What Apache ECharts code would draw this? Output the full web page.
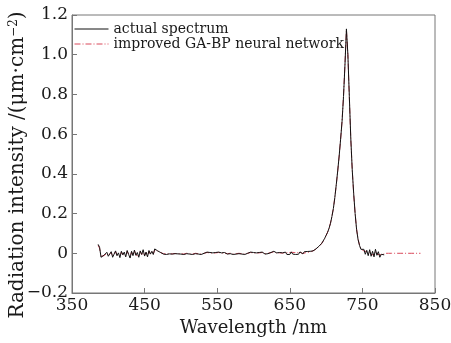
<!DOCTYPE html>
<html><head><meta charset="utf-8">
<script src="https://cdn.jsdelivr.net/npm/echarts@6/dist/echarts.min.js"></script>
<style>html,body{margin:0;padding:0;background:#fff}#c{width:451px;height:343px}</style>
</head><body><div id="c"></div>
<script>
// wavelength grid (nm): start and step shared by both series
const wlStart = 386;
const wlStep = 2;
const seriesNames = ['actual spectrum', 'improved GA-BP neural network'];
const xTicks = [350, 450, 550, 650, 750, 850];
const yTickLabels = ['\u22120.2', '0', '0.2', '0.4', '0.6', '0.8', '1.0', '1.2'];

// actual spectrum, 386..780 nm
const actual = [
  0.045, 0.03, -0.02, -0.028, -0.01, -0.018, 0.005, -0.015, -0.005, 0.008,
  -0.02, -0.004, 0.012, -0.012, 0.002, -0.022, 0.01, -0.008, 0.006, -0.018,
  0.014, -0.006, -0.024, 0.01, -0.012, 0.016, -0.01, 0.004, -0.02, 0.012,
  -0.006, 0.018, -0.014, 0.006, -0.018, 0.014, -0.004, 0.01, -0.006, 0.022,
  0.028, 0.012, 0.016, 0.004, 0.008, -0.004, 0.004, -0.006, 0.002, -0.003,
  0.003, -0.004, 0.002, -0.002, 0.003, -0.003, 0.001,
  -0.004, 0.002, -0.006, 0.004, -0.002, 0.006, -0.004, 0.000, -0.006, 0.004,
  -0.002, 0.006, -0.004, 0.002, -0.006, 0.004, 0.000, -0.004, 0.006, -0.002,
  0.004, -0.006, 0.002, -0.004, 0.004, -0.002, 0.006, -0.004, 0.002, -0.006,
  0.004, 0.000, -0.004, 0.006, -0.002, 0.004, -0.006, 0.002, -0.004, 0.006,
  -0.002, 0.004, -0.004, 0.002, -0.006, 0.004, 0.000, -0.004, 0.006, -0.002,
  0.004, -0.004, 0.002, -0.006, 0.004, -0.002, 0.006, 0.002, -0.004, 0.004,
  -0.002, 0.006, 0.004, 0.008, 0.01, 0.006, 0.002, -0.004, 0.004, -0.006,
  0.002, -0.004, 0.006, -0.006, 0.004, -0.006, 0.007, -0.004, 0.006, -0.006,
  0.004, -0.005, 0.007, 0.002, -0.003, 0.008, 0.003, 0.009, 0.005, 0.01,
  0.008, 0.012, 0.015, 0.022, 0.027, 0.035, 0.042, 0.05, 0.06, 0.075,
  0.09, 0.105, 0.125, 0.15, 0.185, 0.225, 0.28, 0.345, 0.415, 0.49,
  0.575, 0.665, 0.79, 0.95, 1.13, 1.0, 0.79, 0.58, 0.42, 0.3,
  0.2, 0.12, 0.07, 0.04, 0.02, 0.012, 0.02, -0.005, 0.015, -0.012,
  0.018, -0.015, 0.01, -0.018, 0.02, -0.01, 0.008, -0.02, -0.005, -0.015,
  -0.008
];

// improved GA-BP neural network prediction, 386..830 nm
const predicted = [
  0.04, 0.025, -0.015, -0.022, -0.012, -0.014, 0.0, -0.012, -0.004, 0.005,
  -0.015, -0.005, 0.008, -0.01, 0.0, -0.016, 0.006, -0.006, 0.004, -0.014,
  0.01, -0.006, -0.018, 0.006, -0.01, 0.012, -0.008, 0.002, -0.015, 0.008,
  -0.006, 0.012, -0.01, 0.004, -0.014, 0.01, -0.004, 0.008, -0.004, 0.018,
  0.024, 0.012, 0.012, 0.004, 0.006, -0.002, 0.003, -0.004, 0.001, -0.002,
  0.002, -0.003, 0.001, -0.001, 0.002, -0.002, 0.001,
  -0.002, 0.001, -0.004, 0.002, 0.000, 0.004, -0.002, 0.000, -0.004, 0.002,
  0.000, 0.004, -0.002, 0.001, -0.004, 0.002, 0.000, -0.002, 0.004, 0.000,
  0.002, -0.004, 0.001, -0.002, 0.002, 0.000, 0.004, -0.002, 0.001, -0.004,
  0.002, 0.000, -0.002, 0.004, 0.000, 0.002, -0.004, 0.001, -0.002, 0.004,
  0.000, 0.002, -0.002, 0.001, -0.004, 0.002, 0.000, -0.002, 0.004, 0.000,
  0.002, -0.002, 0.001, -0.004, 0.002, 0.000, 0.004, 0.001, -0.002, 0.002,
  0.000, 0.004, 0.003, 0.006, 0.008, 0.005, 0.001, -0.002, 0.002, -0.004,
  0.001, -0.002, 0.004, -0.004, 0.002, -0.004, 0.005, -0.002, 0.004, -0.004,
  0.003, -0.003, 0.005, 0.002, -0.001, 0.006, 0.003, 0.007, 0.005, 0.008,
  0.009, 0.012, 0.016, 0.021, 0.027, 0.034, 0.041, 0.05, 0.06, 0.074,
  0.09, 0.106, 0.126, 0.152, 0.186, 0.226, 0.28, 0.344, 0.414, 0.49,
  0.574, 0.668, 0.795, 0.955, 1.125, 1.0, 0.785, 0.575, 0.418, 0.298,
  0.198, 0.122, 0.072, 0.042, 0.022, 0.012, 0.012, 0.002, 0.008, -0.004,
  0.008, -0.006, 0.004, -0.008, 0.008, -0.004, 0.002, -0.008, -0.003, -0.006,
  -0.004,
  0, 0, 0, 0, 0, 0, 0, 0, 0, 0,
  0, 0, 0, 0, 0, 0, 0, 0, 0, 0,
  0, 0, 0, 0, 0
];

const yTitle = 'Radiation intensity /(\u03bcm\u00b7cm{sup|\u22122})';
const toPairs = arr => arr.map((v, i) => [wlStart + wlStep * i, v]);
const FONT = 'DejaVu Serif';
const AX = '#777';
const TXT = '#1a1a1a';

const chart = echarts.init(document.getElementById('c'), null, {renderer: 'canvas'});
chart.setOption({
  animation: false,
  backgroundColor: '#fff',
  grid: {left: 72, right: 16, top: 15, bottom: 50, show: true, borderColor: AX, borderWidth: 1,
    containLabel: false, outerBoundsMode: 'none'},
  legend: {
    data: seriesNames,
    orient: 'vertical',
    left: 74, top: 22, padding: 0,
    itemWidth: 34, itemHeight: 14, itemGap: 1,
    itemStyle: {opacity: 0},
    lineStyle: {width: 1},
    textStyle: {fontFamily: FONT, fontSize: 14, color: TXT}
  },
  graphic: [{
    type: 'text', x: 18, y: 165, rotation: Math.PI / 2, silent: true,
    style: {
      text: yTitle, fontFamily: FONT, fontSize: 20, fill: TXT,
      align: 'center', verticalAlign: 'middle',
      rich: {sup: {fontFamily: FONT, fontSize: 12, fill: TXT, verticalAlign: 'top', lineHeight: 20}}
    }
  }],
  xAxis: {
    type: 'value', min: xTicks[0], max: xTicks[xTicks.length - 1], interval: 100,
    name: 'Wavelength /nm', nameLocation: 'middle', nameGap: 24,
    nameTextStyle: {fontFamily: FONT, fontSize: 18, color: TXT},
    axisLine: {onZero: false, lineStyle: {color: AX}},
    axisTick: {inside: true, length: 5, lineStyle: {color: AX}},
    axisLabel: {fontFamily: FONT, fontSize: 17, color: TXT, margin: 4},
    splitLine: {show: false}
  },
  yAxis: {
    type: 'value', min: -0.2, max: 1.2, interval: 0.2,
    axisLine: {onZero: false, lineStyle: {color: AX}},
    axisTick: {inside: true, length: 5, lineStyle: {color: AX}},
    axisLabel: {fontFamily: FONT, fontSize: 17, color: TXT, margin: 4,
      formatter: (v, i) => yTickLabels[i]},
    splitLine: {show: false}
  },
  series: [
    {
      name: seriesNames[1], type: 'line', data: toPairs(predicted), symbol: 'none',
      lineStyle: {color: '#d9485a', width: 1, type: [6, 2, 1, 2]}, itemStyle: {color: '#d9485a'}, z: 2
    },
    {
      name: seriesNames[0], type: 'line', data: toPairs(actual), symbol: 'none',
      lineStyle: {color: '#111', width: 1}, itemStyle: {color: '#111'}, z: 3
    }
  ]
});
</script></body></html>
